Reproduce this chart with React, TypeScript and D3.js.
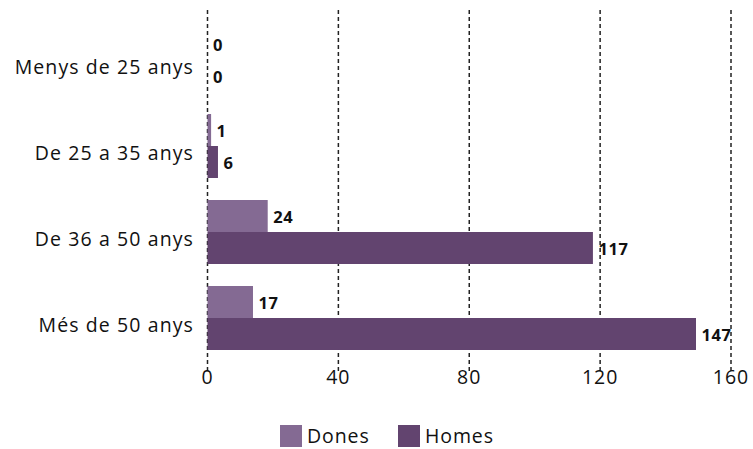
import React from "react";
import * as d3 from "d3";

const categories = ["Menys de 25 anys", "De 25 a 35 anys", "De 36 a 50 anys", "Més de 50 anys"];
const series = ["Dones", "Homes"];
// values printed on the bars
const dones = [0, 1, 24, 17];
const homes = [0, 6, 117, 147];
// bar lengths as drawn against the axis in the reference
const donesBar = [0, 1.1, 18.4, 13.9];
const homesBar = [0, 3.2, 117.8, 149.3];
const ticks = [0, 40, 80, 120, 160];
const colors = ["#846a93", "#62446f"];

const W = 753;
const H = 449;
const FONT = "'Open Sans', 'Noto Sans', sans-serif";

export default function App() {
  const x = d3.scaleLinear().domain([0, 160]).range([207.5, 731]);
  const y = d3.scaleBand<string>().domain(categories).range([17, 361]).paddingInner(0.256).paddingOuter(0.128);
  const sub = d3.scaleBand<string>().domain(series).range([0, y.bandwidth()]);
  const labels = [dones, homes];
  const bars = [donesBar, homesBar];

  return (
    <svg width={W} height={H} style={{ position: "absolute", left: 0, top: 0, fontFamily: FONT }}>
      {ticks.map((t) => (
        <g key={t}>
          <line x1={x(t)} x2={x(t)} y1={10} y2={372} stroke="#222" strokeWidth={1.5} strokeDasharray="4,3" />
          <text x={x(t)} y={384} textAnchor="middle" fontSize={19.5} letterSpacing={1} fill="#111">{t}</text>
        </g>
      ))}
      {categories.map((c, i) => (
        <g key={c}>
          <text x={194} y={(y(c) as number) + y.bandwidth() / 2 + 14} textAnchor="end" fontSize={19.5} letterSpacing={1.1} fill="#111">{c}</text>
          {series.map((s, j) => {
            const v = bars[j][i];
            const y0 = (y(c) as number) + (sub(s) as number);
            return (
              <g key={s}>
                <rect x={x(0)} y={y0} width={x(v) - x(0)} height={sub.bandwidth()} fill={colors[j]} />
                <text x={x(v) + 5.5} y={y0 + sub.bandwidth() / 2 + 7} fontSize={16.5} letterSpacing={0.6} fontWeight="bold" fill="#111">{labels[j][i]}</text>
              </g>
            );
          })}
        </g>
      ))}
      {series.map((s, j) => {
        const lx = j === 0 ? 280 : 398;
        return (
          <g key={s}>
            <rect x={lx} y={425} width={22} height={22} fill={colors[j]} />
            <text x={lx + 27} y={443} fontSize={19.5} letterSpacing={0.9} fill="#111">{s}</text>
          </g>
        );
      })}
    </svg>
  );
}
